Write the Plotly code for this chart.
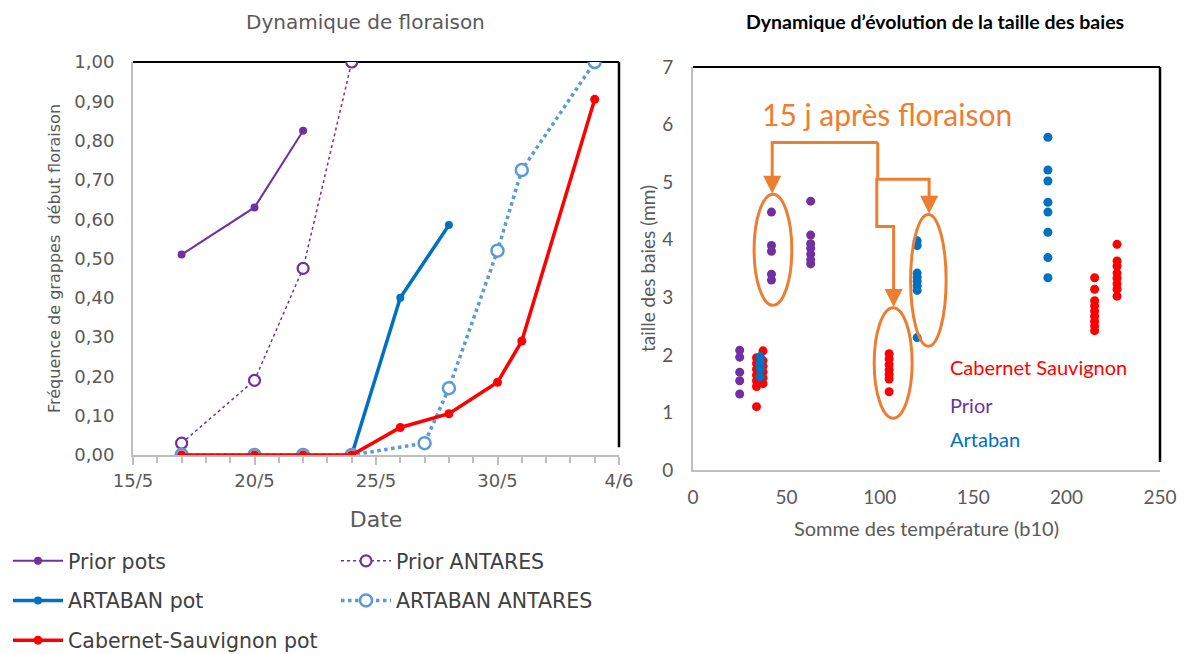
import plotly.graph_objects as go

# ---------------- Left chart data (Dynamique de floraison) ----------------
prior_pots_dates = ["2019-05-17", "2019-05-20", "2019-05-22"]
prior_pots_vals = [0.51, 0.63, 0.825]

prior_antares_dates = ["2019-05-17", "2019-05-20", "2019-05-22", "2019-05-24"]
prior_antares_vals = [0.03, 0.19, 0.475, 1.00]

artaban_pot_dates = ["2019-05-24", "2019-05-26", "2019-05-28"]
artaban_pot_vals = [0.0, 0.40, 0.585]

artaban_antares_dates = ["2019-05-17", "2019-05-20", "2019-05-22", "2019-05-24",
                         "2019-05-27", "2019-05-28", "2019-05-30", "2019-05-31", "2019-06-03"]
artaban_antares_vals = [0.0, 0.0, 0.0, 0.0, 0.03, 0.17, 0.52, 0.725, 1.00]

cabernet_pot_dates = ["2019-05-17", "2019-05-20", "2019-05-22", "2019-05-24",
                      "2019-05-26", "2019-05-28", "2019-05-30", "2019-05-31", "2019-06-03"]
cabernet_pot_vals = [0.0, 0.0, 0.0, 0.0, 0.07, 0.105, 0.185, 0.29, 0.905]

# ---------------- Right chart data (taille des baies) ----------------
prior_x = [25, 25, 25, 25, 25,
           42, 42, 42, 42, 42,
           63, 63, 63, 63, 63, 63, 63]
prior_y = [2.08, 1.96, 1.70, 1.55, 1.32,
           4.48, 3.90, 3.80, 3.40, 3.30,
           4.67, 4.08, 3.93, 3.85, 3.75, 3.65, 3.58]

cab_x = [34, 34, 34, 34, 34, 34, 34,
         37.5, 37.5, 37.5, 37.5, 37.5, 37.5,
         105, 105, 105, 105, 105, 105, 105,
         215, 215, 215, 215, 215, 215, 215, 215, 215,
         227, 227, 227, 227, 227, 227, 227, 227]
cab_y = [1.95, 1.85, 1.75, 1.65, 1.55, 1.45, 1.10,
         2.07, 1.90, 1.80, 1.70, 1.60, 1.50,
         2.02, 1.93, 1.83, 1.74, 1.66, 1.58, 1.36,
         3.34, 3.14, 2.94, 2.85, 2.76, 2.67, 2.58, 2.50, 2.42,
         3.92, 3.63, 3.54, 3.42, 3.33, 3.23, 3.14, 3.02]

art_x = [36, 36, 36, 36, 36,
         120, 120, 120, 120, 120, 120, 120, 120,
         190, 190, 190, 190, 190, 190, 190, 190]
art_y = [1.97, 1.90, 1.83, 1.75, 1.62,
         3.98, 3.90, 3.42, 3.35, 3.28, 3.20, 3.12, 2.30,
         5.78, 5.21, 5.02, 4.65, 4.48, 4.13, 3.69, 3.34]

PURPLE = "#7030A0"
BLUE = "#0070C0"
LBLUE = "#5B9BD5"
RED = "#FF0000"
ORANGE = "#ED7D31"
GRAY_TXT = "#595959"
AXIS_GRAY = "#BFBFBF"

LFONT = "DejaVu Sans"
RFONT = "Lato"

fig = go.Figure()

# ---- left traces
fig.add_trace(go.Scatter(x=prior_pots_dates, y=prior_pots_vals, name="Prior pots",
                         mode="lines+markers", line=dict(color=PURPLE, width=2),
                         marker=dict(color=PURPLE, size=8), xaxis="x", yaxis="y",
                         legend="legend", legendgroup="a"))
fig.add_trace(go.Scatter(x=prior_antares_dates, y=prior_antares_vals, name="Prior ANTARES",
                         mode="lines+markers", line=dict(color=PURPLE, width=1.5, dash="dot"),
                         marker=dict(color="white", size=11, line=dict(color=PURPLE, width=2.2)),
                         xaxis="x", yaxis="y", legend="legend2", legendgroup="b"))
fig.add_trace(go.Scatter(x=artaban_pot_dates, y=artaban_pot_vals, name="ARTABAN pot",
                         mode="lines+markers", line=dict(color=BLUE, width=3.5),
                         marker=dict(color=BLUE, size=8), xaxis="x", yaxis="y",
                         legend="legend", legendgroup="c"))
fig.add_trace(go.Scatter(x=artaban_antares_dates, y=artaban_antares_vals, name="ARTABAN ANTARES",
                         mode="lines+markers", line=dict(color=LBLUE, width=3.5, dash="dot"),
                         marker=dict(color="white", size=12, line=dict(color=LBLUE, width=2.5)),
                         xaxis="x", yaxis="y", legend="legend2", legendgroup="d"))
fig.add_trace(go.Scatter(x=cabernet_pot_dates, y=cabernet_pot_vals, name="Cabernet-Sauvignon pot",
                         mode="lines+markers", line=dict(color=RED, width=3.5),
                         marker=dict(color=RED, size=9), xaxis="x", yaxis="y",
                         legend="legend", legendgroup="e"))

# ---- right traces
fig.add_trace(go.Scatter(x=prior_x, y=prior_y, mode="markers", name="Prior",
                         marker=dict(color=PURPLE, size=9), xaxis="x2", yaxis="y2", showlegend=False))
fig.add_trace(go.Scatter(x=cab_x, y=cab_y, mode="markers", name="Cabernet Sauvignon",
                         marker=dict(color=RED, size=9), xaxis="x2", yaxis="y2", showlegend=False))
fig.add_trace(go.Scatter(x=art_x, y=art_y, mode="markers", name="Artaban",
                         marker=dict(color=BLUE, size=9), xaxis="x2", yaxis="y2", showlegend=False))

W, H = 1184, 654
def px(x):
    return x / W
def py(y):
    return 1 - y / H

L_dom_x = [px(133), px(619)]
L_dom_y = [py(455), py(62)]
R_dom_x = [px(693), px(1160)]
R_dom_y = [py(470), py(67)]

DAY = 86400000

shapes = []
# black top/right borders
for xr, yr in (("x domain", "y domain"), ("x2 domain", "y2 domain")):
    shapes.append(dict(type="line", xref=xr, yref=yr, x0=0, x1=1, y0=1, y1=1,
                       line=dict(color="black", width=2), layer="below"))
    shapes.append(dict(type="line", xref=xr, yref=yr, x0=1, x1=1, y0=0.02, y1=1,
                       line=dict(color="black", width=2.5), layer="below"))

# ellipses (orange)
ell = dict(type="circle", xref="x2", yref="y2", line=dict(color=ORANGE, width=3))
shapes.append(dict(ell, x0=32.7, x1=52.9, y0=2.86, y1=4.79))
shapes.append(dict(ell, x0=97, x1=117.3, y0=0.9, y1=2.82))
shapes.append(dict(ell, x0=116.5, x1=135.5, y0=2.15, y1=4.44))

# elbow connectors
conn = dict(type="path", xref="x2", yref="y2", line=dict(color=ORANGE, width=3))
shapes.append(dict(conn, path="M 98.9 5.69 L 42.4 5.69 L 42.4 5.0"))
shapes.append(dict(conn, path="M 98.9 5.69 L 98.9 5.05 L 126.4 5.05 L 126.4 4.7"))
shapes.append(dict(conn, path="M 98.9 5.05 L 98.4 5.05 L 98.4 4.23 L 107.4 4.23 L 107.4 3.1"))

annotations = [
    dict(text="Dynamique de floraison", x=px(365), y=py(22), xref="paper", yref="paper",
         xanchor="center", yanchor="middle", showarrow=False,
         font=dict(family=LFONT, size=20, color=GRAY_TXT)),
    dict(text="<b>Dynamique d’évolution de la taille des baies</b>", x=px(935), y=py(22),
         xref="paper", yref="paper", xanchor="center", yanchor="middle", showarrow=False,
         font=dict(family=RFONT, size=19.5, color="black")),
    dict(text="15 j après floraison", x=103.6, y=6.18, xref="x2", yref="y2", showarrow=False,
         xanchor="center", yanchor="middle",
         font=dict(family=RFONT, size=30, color=ORANGE)),
    dict(text="Cabernet Sauvignon", x=136.5, y=1.79, xref="x2", yref="y2", xanchor="left",
         yanchor="middle", showarrow=False, font=dict(family=RFONT, size=20, color=RED)),
    dict(text="Prior", x=136.5, y=1.13, xref="x2", yref="y2", xanchor="left",
         yanchor="middle", showarrow=False, font=dict(family=RFONT, size=20, color=PURPLE)),
    dict(text="Artaban", x=136.5, y=0.54, xref="x2", yref="y2", xanchor="left",
         yanchor="middle", showarrow=False, font=dict(family=RFONT, size=20, color=BLUE)),
]
# arrow heads
for (xa, y0, y1) in ((42.4, 5.05, 4.8), (126.4, 4.75, 4.45), (107.4, 3.15, 2.83)):
    annotations.append(dict(x=xa, y=y1, ax=xa, ay=y0, xref="x2", yref="y2",
                            axref="x2", ayref="y2", showarrow=True, text="",
                            arrowhead=2, arrowsize=1.2, arrowwidth=3, arrowcolor=ORANGE))

fig.update_layout(
    width=W, height=H,
    margin=dict(l=0, r=0, t=0, b=0, autoexpand=False),
    paper_bgcolor="white", plot_bgcolor="white",
    separators=", ",
    xaxis=dict(domain=L_dom_x, anchor="y", type="date", automargin=False,
               range=["2019-05-15", "2019-06-04"],
               tick0="2019-05-15", dtick=5 * DAY, tickformat="%-d/%-m",
               showgrid=False, zeroline=False,
               showline=True, linecolor=AXIS_GRAY, linewidth=2,
               ticks="outside", ticklen=8, tickcolor=AXIS_GRAY, tickwidth=1.5,
               minor=dict(dtick=DAY, tick0="2019-05-15", ticks="outside", ticklen=6,
                          tickcolor=AXIS_GRAY, tickwidth=1.5, showgrid=False),
               tickfont=dict(family=LFONT, size=18, color=GRAY_TXT),
               title=dict(text="Date", font=dict(family=LFONT, size=22, color=GRAY_TXT),
                          standoff=22)),
    yaxis=dict(domain=L_dom_y, anchor="x", range=[0, 1.0], dtick=0.1, tickformat=".2f",
               showgrid=False, zeroline=False, automargin=False,
               showline=True, linecolor=AXIS_GRAY, linewidth=2, ticks="",
               ticklabelstandoff=13,
               tickfont=dict(family=LFONT, size=18, color=GRAY_TXT),
               title=dict(text="Fréquence de grappes\u00a0 début floraison",
                          font=dict(family=LFONT, size=16, color=GRAY_TXT), standoff=10)),
    xaxis2=dict(domain=R_dom_x, anchor="y2", range=[0, 250], dtick=50, automargin=False,
                showgrid=False, zeroline=False,
                showline=True, linecolor=AXIS_GRAY, linewidth=2, ticks="",
                ticklabelstandoff=9,
                tickfont=dict(family=RFONT, size=19, color=GRAY_TXT),
                title=dict(text="Somme des température (b10)",
                           font=dict(family=RFONT, size=20, color=GRAY_TXT), standoff=15)),
    yaxis2=dict(domain=R_dom_y, anchor="x2", range=[0, 7], dtick=1, automargin=False,
                showgrid=False, zeroline=False,
                showline=True, linecolor=AXIS_GRAY, linewidth=2, ticks="",
                ticklabelstandoff=14,
                tickfont=dict(family=RFONT, size=19, color=GRAY_TXT),
                title=dict(text="taille des baies (mm)",
                           font=dict(family=RFONT, size=19, color=GRAY_TXT), standoff=2)),
    legend=dict(x=px(8), y=py(541), xanchor="left", yanchor="top",
                orientation="v", itemwidth=50, tracegroupgap=10,
                font=dict(family=LFONT, size=20.5, color="#404040"),
                bgcolor="rgba(0,0,0,0)"),
    legend2=dict(x=px(336), y=py(541), xanchor="left", yanchor="top",
                 orientation="v", itemwidth=50, tracegroupgap=10,
                 font=dict(family=LFONT, size=20.5, color="#404040"),
                 bgcolor="rgba(0,0,0,0)"),
    shapes=shapes,
    annotations=annotations,
)

fig.write_html("out.html")
